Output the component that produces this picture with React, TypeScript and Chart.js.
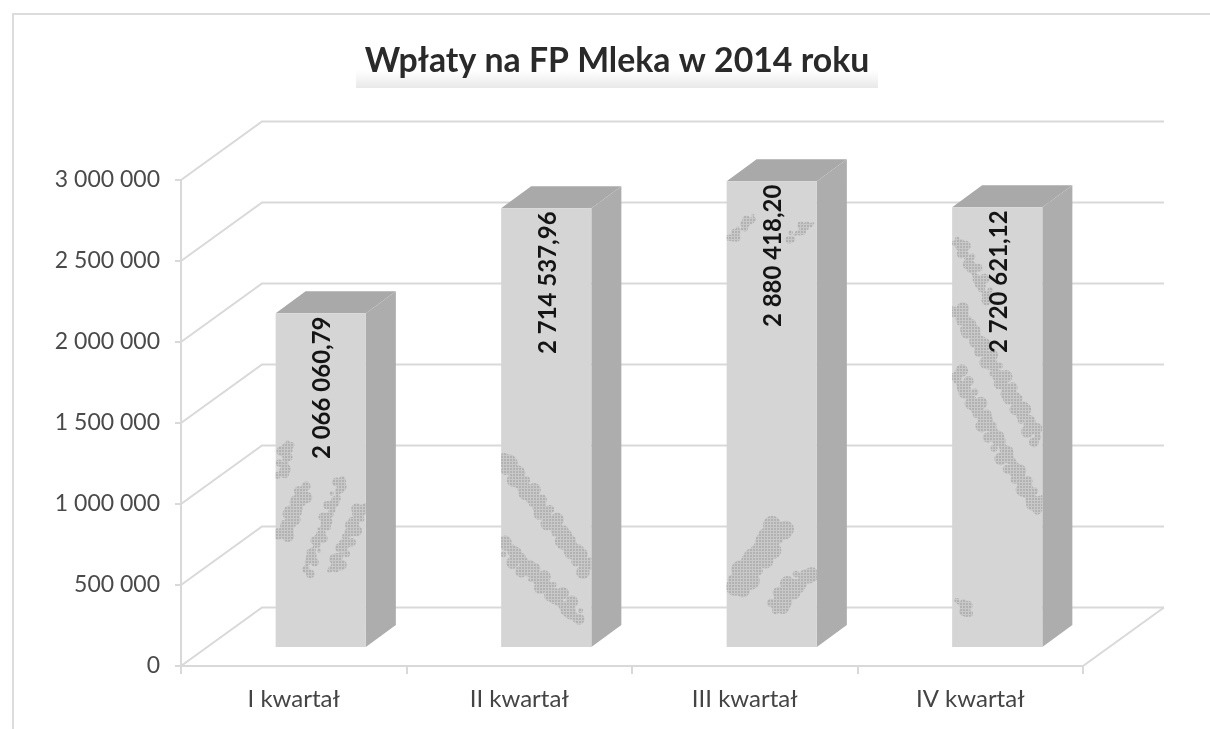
import React, { useEffect, useRef } from "react";
import { Chart, registerables } from "chart.js";

Chart.register(...registerables);

const categories = ["I kwartał", "II kwartał", "III kwartał", "IV kwartał"];
const payments = [2066060.79, 2714537.96, 2880418.2, 2720621.12];
const valueLabels = ["2 066 060,79", "2 714 537,96", "2 880 418,20", "2 720 621,12"];
const yTicks = { min: 0, max: 3000000, step: 500000 };
const titleText = "Wpłaty na FP Mleka w 2014 roku";

// scan mottling on each bar's front face: [x1, up1, x2, up2, thickness], measured from the bar's lower left corner
const mottling: number[][][] = [
  [[12, 205, 7, 171, 12], [7, 111, 30, 161, 15], [30, 75, 67, 168, 11], [57, 75, 87, 141, 13]],
  [[3, 188, 86, 78, 16], [2, 103, 78, 28, 16]],
  [[8, 60, 55, 121, 22], [47, 38, 82, 75, 18], [4, 408, 27, 431, 9], [62, 408, 85, 425, 9]],
  [[5, 408, 37, 348, 12], [5, 338, 87, 208, 15], [4, 273, 87, 138, 15], [7, 48, 17, 33, 11]],
];

const FONT = "Lato, 'Open Sans', sans-serif";
const LINE = "#d9d9d9";
const WALL_DX = 81;
const WALL_DY = 58.5;
const BAR_DX = 27;
const BAR_DY = -18;
const DEPTH_DX = 30;
const DEPTH_DY = 22;

const fmt = (v: number) => String(v).replace(/\B(?=(\d{3})+(?!\d))/g, " ");

function dotPattern(ctx: CanvasRenderingContext2D) {
  const c = document.createElement("canvas");
  c.width = 3;
  c.height = 3;
  const g = c.getContext("2d") as CanvasRenderingContext2D;
  g.fillStyle = "#c8c8c8";
  g.fillRect(0, 0, 3, 3);
  g.fillStyle = "#b2b2b2";
  g.fillRect(0, 0, 2, 2);
  return ctx.createPattern(c, "repeat");
}

const frame3d = {
  id: "frame3d",
  beforeDraw(chart: any) {
    const { ctx, scales, chartArea } = chart;
    ctx.save();
    ctx.fillStyle = "#ffffff";
    ctx.fillRect(0, 0, chart.width, chart.height);
    // sheet border
    ctx.strokeStyle = "#dcdcdc";
    ctx.lineWidth = 2;
    ctx.beginPath();
    ctx.moveTo(13, chart.height);
    ctx.lineTo(13, 14);
    ctx.lineTo(chart.width, 14);
    ctx.stroke();
    // title shading
    const g = ctx.createLinearGradient(0, 70, 0, 88);
    g.addColorStop(0, "rgba(235,235,235,0)");
    g.addColorStop(1, "rgba(232,232,232,1)");
    ctx.fillStyle = g;
    ctx.fillRect(356, 70, 522, 18);
    // walls and floor
    ctx.strokeStyle = LINE;
    ctx.lineWidth = 2;
    const y = scales.y;
    y.ticks.forEach((t: any) => {
      const py = y.getPixelForValue(t.value);
      ctx.beginPath();
      ctx.moveTo(chartArea.left, py);
      ctx.lineTo(chartArea.left + WALL_DX, py - WALL_DY);
      ctx.lineTo(chartArea.right + WALL_DX, py - WALL_DY);
      ctx.stroke();
    });
    ctx.beginPath();
    ctx.moveTo(chartArea.right, chartArea.bottom);
    ctx.lineTo(chartArea.right + WALL_DX, chartArea.bottom - WALL_DY);
    ctx.stroke();
    ctx.restore();
  },
  beforeDatasetsDraw(chart: any) {
    const { ctx } = chart;
    ctx.save();
    ctx.translate(BAR_DX, BAR_DY);
    chart.getDatasetMeta(0).data.forEach((bar: any) => {
      const p = bar.getProps(["x", "y", "base", "width"], true);
      const l = p.x - p.width / 2;
      const r = p.x + p.width / 2;
      ctx.fillStyle = "#a9a9a9";
      ctx.beginPath();
      ctx.moveTo(l, p.y);
      ctx.lineTo(l + DEPTH_DX, p.y - DEPTH_DY);
      ctx.lineTo(r + DEPTH_DX, p.y - DEPTH_DY);
      ctx.lineTo(r, p.y);
      ctx.closePath();
      ctx.fill();
      ctx.fillStyle = "#adadad";
      ctx.beginPath();
      ctx.moveTo(r, p.y);
      ctx.lineTo(r + DEPTH_DX, p.y - DEPTH_DY);
      ctx.lineTo(r + DEPTH_DX, p.base - DEPTH_DY);
      ctx.lineTo(r, p.base);
      ctx.closePath();
      ctx.fill();
    });
  },
  afterDatasetsDraw(chart: any) {
    const { ctx } = chart;
    const pattern = dotPattern(ctx);
    chart.getDatasetMeta(0).data.forEach((bar: any, i: number) => {
      const p = bar.getProps(["x", "y", "base", "width"], true);
      const l = p.x - p.width / 2;
      ctx.save();
      ctx.beginPath();
      ctx.rect(l, p.y, p.width, p.base - p.y);
      ctx.clip();
      ctx.fillStyle = pattern;
      // each streak is a run of uneven dabs, so its edge frays like the scan's
      mottling[i].forEach(([x1, u1, x2, u2, w], s) => {
        const len = Math.hypot(x2 - x1, u2 - u1);
        const steps = Math.round(len / 2.5);
        const nx = -(u2 - u1) / len;
        const ny = (x2 - x1) / len;
        ctx.beginPath();
        for (let k = 0; k <= steps; k++) {
          const t = k / steps;
          const wob = Math.sin(k * 1.9 + s * 2.3) * Math.cos(k * 0.67 + i);
          const off = wob * w * 0.45;
          const rad = (w / 2) * (0.3 + 0.55 * Math.abs(Math.sin(k * 0.41 + s + i)));
          const cx = l + x1 + (x2 - x1) * t + nx * off;
          const cy = p.base - (u1 + (u2 - u1) * t) - ny * off;
          ctx.moveTo(cx + rad, cy);
          ctx.arc(cx, cy, rad, 0, Math.PI * 2);
        }
        ctx.fill();
      });
      ctx.restore();

      ctx.save();
      ctx.translate(p.x + 2, p.y + 74.5);
      ctx.rotate(-Math.PI / 2);
      ctx.font = `bold 24px ${FONT}`;
      ctx.fillStyle = "#141414";
      ctx.textAlign = "center";
      ctx.textBaseline = "middle";
      ctx.fillText(valueLabels[i], 0, 0);
      ctx.restore();
    });
    ctx.restore();
  },
};

export default function App() {
  const ref = useRef<HTMLCanvasElement | null>(null);
  useEffect(() => {
    const chart = new Chart(ref.current as HTMLCanvasElement, {
      type: "bar",
      data: {
        labels: categories,
        datasets: [
          {
            data: payments,
            backgroundColor: "#d5d5d5",
            barPercentage: 0.4,
            categoryPercentage: 1,
            clip: false,
          } as any,
        ],
      },
      options: {
        responsive: false,
        animation: false,
        layout: { padding: { left: 24, right: 0, top: 0, bottom: 0 } },
        plugins: {
          legend: { display: false },
          tooltip: { enabled: false },
          title: {
            display: true,
            text: titleText,
            color: "#2a2a2a",
            font: { family: FONT, size: 33.8, weight: "bold", lineHeight: 1.2 },
            padding: { top: 41, bottom: 98.4 },
          },
        },
        scales: {
          x: {
            afterFit(s: any) {
              s.height = 63;
            },
            grid: { drawOnChartArea: false, color: LINE, lineWidth: 2, tickLength: 8 },
            border: { color: LINE, width: 2 },
            ticks: { color: "#444", font: { family: FONT, size: 24 }, padding: 11, maxRotation: 0 },
          },
          y: {
            min: yTicks.min,
            max: yTicks.max,
            afterFit(s: any) {
              s.width = 157;
            },
            grid: { drawOnChartArea: false, color: LINE, lineWidth: 2, tickLength: 6 },
            border: { color: LINE, width: 2 },
            ticks: {
              stepSize: yTicks.step,
              color: "#4a4a4a",
              font: { family: FONT, size: 23 },
              padding: 15,
              callback: (v: any) => fmt(Number(v)),
            },
          },
          // empty right-hand margin: the walls' depth is drawn into it
          margin: {
            position: "right",
            afterFit(s: any) {
              s.width = 127;
            },
            grid: { display: false },
            border: { display: false },
            ticks: { display: false },
          },
        },
      },
      plugins: [frame3d],
    } as any);
    return () => chart.destroy();
  }, []);
  return (
    <div style={{ position: "fixed", left: 0, top: 0, width: 1210, height: 729, background: "#fff" }}>
      <canvas ref={ref} width={1210} height={729} style={{ display: "block" }} />
    </div>
  );
}
